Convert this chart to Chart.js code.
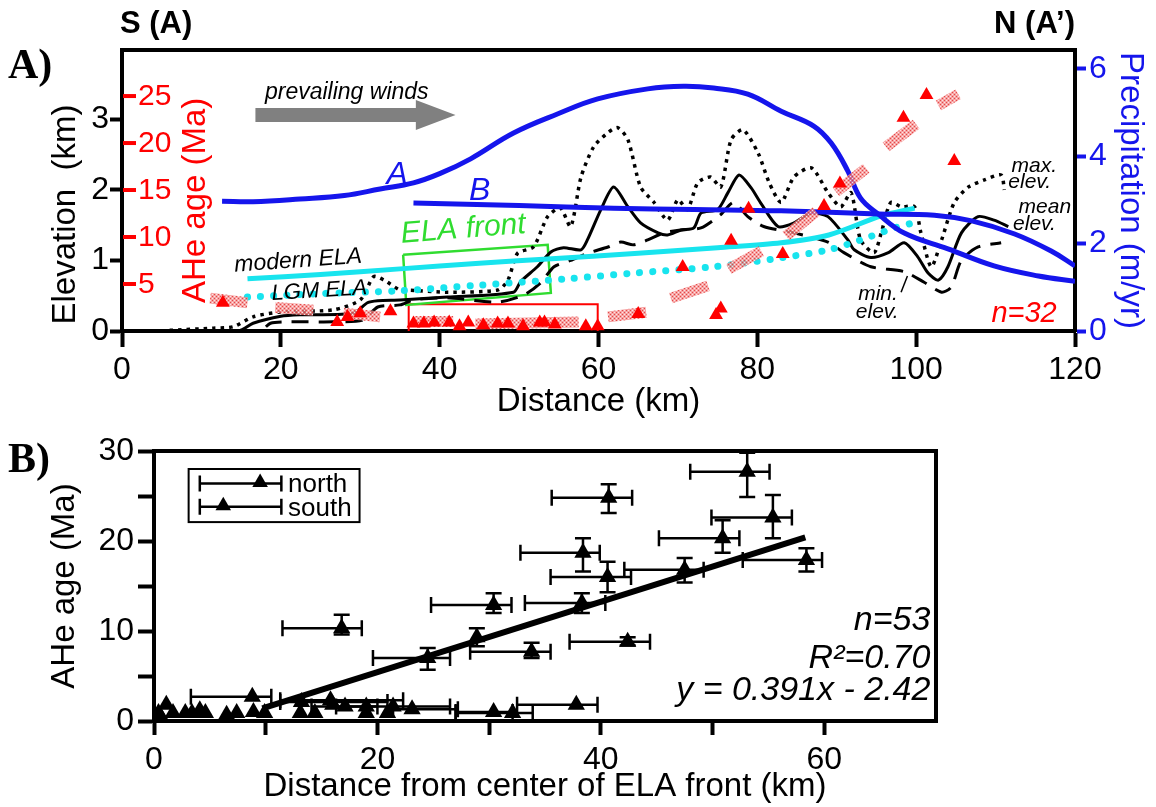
<!DOCTYPE html>
<html>
<head>
<meta charset="utf-8">
<script src="https://cdn.jsdelivr.net/npm/chart.js@4.4.1/dist/chart.umd.min.js"></script>
<style>
body{margin:0;background:#fff;width:1156px;height:807px;overflow:hidden;position:relative}
#chartA{position:absolute;left:0;top:0}
#chartB{position:absolute;left:0;top:420px}
</style>
</head>
<body>
<canvas id="chartA" width="1156" height="420"></canvas>
<canvas id="chartB" width="1156" height="387"></canvas>
<script>
/****** Panel A: profile S-N ******/
const distTicksA = [0, 20, 40, 60, 80, 100, 120];
const elevTicks = [0, 1, 2, 3];
const precipTicks = [0, 2, 4, 6];
const ageTicksA = [5, 10, 15, 20, 25];

// [distance km, precipitation m/yr]
const precipA = [[12.6,2.97],[16.5,2.96],[22.4,3.02],[28,3.1],[32.5,3.25],[36.7,3.39],[40,3.6],[43.9,3.94],[49.3,4.53],[54.9,4.97],[59.9,5.31],[66.2,5.54],[70.7,5.6],[74.5,5.56],[78.8,5.42],[83,5.03],[87.1,4.69],[89.3,4.3],[91.4,3.66],[93,3.04],[95.2,2.68],[98.5,2.24],[104,1.88],[109.8,1.49],[115.4,1.26],[120,1.14]];
const precipB = [[36.7,2.93],[50,2.87],[61.9,2.81],[72,2.78],[83,2.75],[95.2,2.68],[102.3,2.65],[107,2.52],[112.4,2.22],[117,1.83],[120,1.49]];

// [distance km, elevation km]
const modernELA = [[15.8,0.74],[25,0.8],[35,0.88],[45,0.96],[53.6,1.02],[65,1.1],[75,1.18],[83,1.25],[89,1.36],[95.6,1.63],[99.8,1.74]];
const lgmELA = [[15.8,0.48],[25,0.53],[35,0.57],[45.1,0.65],[56.1,0.74],[64.4,0.82],[74.5,0.91],[82,1.02],[89,1.15],[93,1.29],[97.3,1.46],[100.2,1.55]];
const maxElev = [[6,0.01],[11.5,0.04],[14,0.06],[16.5,0.2],[20,0.27],[26.6,0.3],[30,0.44],[31.7,0.77],[33,0.72],[35,0.58],[36,0.58],[41,0.55],[47.3,0.58],[48.6,0.72],[49.8,1.1],[51.8,1.19],[53.6,1.62],[55.2,1.74],[56.5,1.48],[57.8,2.18],[59.4,2.61],[61.2,2.81],[62.4,2.88],[63.7,2.71],[65.3,2.04],[67,1.82],[68.7,1.57],[70,1.86],[71.2,1.72],[72.5,2.1],[74.1,2.18],[75.4,2.04],[76.7,2.71],[78.2,2.85],[80.1,2.52],[81.5,2.1],[83,1.82],[84.6,2.18],[86.8,2.31],[88.9,1.96],[90.5,1.76],[91.8,1.96],[93,1.29],[94.7,1.11],[95.6,1.39],[96.8,1.82],[98.1,1.76],[99.8,1.76],[100.6,1.39],[101.9,0.91],[103.2,1.29],[104.8,1.82],[106.6,2.04],[108.6,2.14],[110.7,2.21],[111.1,2.0]];
const meanElev = [[5,0],[11.5,0],[14.9,0.01],[16.5,0.11],[20,0.21],[22.4,0.23],[29.1,0.25],[30.9,0.4],[32.2,0.43],[35,0.44],[41,0.48],[49.3,0.55],[50.2,0.7],[52.3,0.91],[54,1.12],[55.6,1.18],[57.8,1.15],[58.6,1.29],[60.3,1.72],[61.9,2.04],[63.7,1.76],[65.3,1.53],[67.5,1.39],[68.7,1.36],[70.4,1.43],[72,1.46],[72.9,1.67],[75,1.72],[76.3,1.96],[77.7,2.21],[79.2,2.03],[80.5,1.8],[82.6,1.48],[84.6,1.53],[86.8,1.67],[88.9,1.62],[91.4,1.29],[92.2,1.15],[94.3,1.04],[96.5,1.11],[98.5,1.25],[100.2,1.05],[101.5,0.82],[102.8,0.72],[104,0.91],[105.7,1.39],[107.8,1.62],[109.8,1.57],[111.6,1.48]];
const minElev = [[11.5,0],[14,0],[17.4,0],[18.7,0.11],[20.8,0.13],[26.6,0.13],[30.4,0.16],[32.2,0.34],[35,0.37],[36.7,0.44],[41,0.47],[47.3,0.41],[50.6,0.51],[52.7,0.68],[54.4,0.91],[56.5,1.0],[58.6,1.1],[61.2,1.19],[62.8,1.26],[64.4,1.22],[66.2,1.29],[68.2,1.39],[70.4,1.43],[72.9,1.46],[75.4,1.65],[77,1.82],[78.8,1.62],[80.8,1.48],[84.6,1.39],[88.9,1.26],[90.9,1.11],[94.3,0.91],[98.5,0.84],[101,0.69],[103.2,0.55],[104.4,0.62],[105.7,1.0],[107.8,1.19],[110.7,1.25]];
const elaFrontBox = [[35.4,1.08],[53.6,1.22],[54,0.54],[35.8,0.37],[35.4,1.08]];
const sampleBox = [[36.1,0],[36.1,0.38],[59.9,0.38],[59.9,0]];

// [distance km, AHe age Ma]
const aheSamples = [[12.7,3.0],[27.1,0.95],[28.4,1.5],[30,1.9],[33.8,2.1],[36.7,0.8],[38,0.8],[39.3,0.9],[41.2,0.9],[42.5,0.5],[43.6,0.9],[45.5,0.6],[47.3,0.8],[48.6,0.8],[50.5,0.5],[52.6,0.9],[53.2,0.9],[54.5,0.7],[58.4,0.5],[59.9,0.5],[65,1.8],[70.6,6.8],[74.8,1.7],[75.4,2.4],[76.7,9.6],[78.9,13.0],[83.2,8.2],[88.4,13.3],[90.4,15.7],[98.4,22.7],[101.3,25.1],[104.8,18.1]];
const ageBandFrom = [[11.1,3.5],[19.3,2.5],[27.9,1.9],[36.7,1.0],[44.5,0.75],[61.2,1.5],[69.1,3.5],[76.4,6.6],[83.6,10.1],[89.9,14.8],[96.2,19.6],[102.8,24.0]];
const ageBandTo = [[15.8,3.0],[24.1,2.2],[32.5,1.5],[41.7,1.0],[57.5,0.95],[66,2.0],[73.8,4.8],[80.5,8.5],[87.4,12.7],[93.7,17.3],[100,22.0],[105.3,25.2]];

/****** Panel B: age vs distance from ELA front ******/
const distTicksB = [0, 10, 20, 30, 40, 50, 60];
const ageTicksB = [0, 5, 10, 15, 20, 25, 30];

const northDist  = [53.1, 40.7, 55.4, 50.9, 38.4, 40.6, 58.4, 47.5, 38.3, 30.4, 42.4, 28.9, 24.5, 16.8, 33.8, 37.8, 8.8];
const northAge   = [27.7, 24.8, 22.6, 20.3, 18.7, 16.0, 17.9, 16.8, 13.1, 12.9, 8.8, 9.3, 7.0, 10.3, 7.7, 1.8, 2.7];
const northDistLo = [48.0, 35.6, 49.9, 45.2, 32.8, 35.5, 52.7, 42.1, 33.2, 24.8, 37.2, null, 19.6, 11.5, 28.3, 32.5, 3.3];
const northDistHi = [55.1, 42.8, 57.1, 52.4, 39.9, 42.7, 59.8, 49.2, 40.4, 32.0, 44.4, null, 26.5, 18.6, 35.5, 39.7, 10.5];
const northAgeLo = [24.9, 23.1, 20.3, 18.7, 16.6, 14.3, 16.6, 15.4, 12.0, 12.0, 8.4, 8.3, 5.7, 9.6, 7.0, null, null];
const northAgeHi = [29.8, 26.3, 25.1, 22.3, 20.3, 17.7, 19.2, 18.1, 14.2, 14.2, 9.3, 10.3, 8.1, 11.8, 8.7, null, null];

const southDist = [0.4, 1.1, 1.7, 0.6, 2.8, 3.4, 4.1, 4.6, 6.5, 7.4, 8.9, 9.9, 13.1, 13.2, 14.4, 15.8, 16.0, 17.1, 19.0, 19.0, 20.9, 21.4, 23.1, 30.4, 32.1];
const southAge  = [0.9, 1.8, 0.9, 0.5, 0.9, 0.9, 1.2, 0.9, 0.7, 0.9, 1.0, 0.9, 0.9, 2.1, 0.9, 2.3, 1.8, 1.6, 1.6, 0.9, 0.9, 1.6, 1.3, 1.0, 0.9];
const southDistLo = [null,null,null,null,null,null,null,null,null,null,null,null,null,11.3,null,11.3,null,14.1,16.3,null,null,null,21.4,27.0,27.0];
const southDistHi = [null,null,null,null,null,null,null,null,null,null,null,null,null,20.9,null,22.3,null,20.0,26.5,null,null,null,27.2,32.1,33.9];

const fitLine = [[9.7, 1.4], [58.3, 20.4]];

/****** helpers ******/
const FONT = '"Liberation Sans", Arial, sans-serif';
Chart.defaults.font.family = FONT;
Chart.defaults.color = '#000';
const BLUE = '#1515ec', RED = '#ff0000', CYAN = '#18e4ee', GREEN = '#30dc30';

const xy = arr => arr.map(p => ({x: p[0], y: p[1]}));
const zipXY = (xs, ys) => xs.map((x, i) => ({x: x, y: ys[i]}));
const fixedTicks = list => scale => { scale.ticks = list.map(v => ({value: v})); };

function bandData() {
  const out = [];
  ageBandFrom.forEach((p, i) => {
    out.push({x: p[0], y: p[1]}, {x: ageBandTo[i][0], y: ageBandTo[i][1]}, {x: ageBandTo[i][0], y: null});
  });
  return out;
}

function hatch() {
  const c = document.createElement('canvas');
  c.width = 4; c.height = 4;
  const g = c.getContext('2d');
  g.fillStyle = 'rgba(244,140,140,0.8)'; g.fillRect(0, 0, 4, 4);
  g.fillStyle = 'rgba(225,50,50,0.8)'; g.fillRect(0, 0, 1, 1); g.fillRect(2, 2, 1, 1);
  g.fillStyle = 'rgba(255,235,235,0.9)'; g.fillRect(2, 0, 1, 1); g.fillRect(0, 2, 1, 1);
  return g.createPattern(c, 'repeat');
}

function txt(ctx, s, x, y, font, color, align, rot) {
  ctx.save();
  ctx.translate(x, y);
  if (rot) ctx.rotate(rot);
  ctx.font = font;
  ctx.fillStyle = color;
  ctx.textAlign = align || 'left';
  ctx.textBaseline = 'alphabetic';
  ctx.fillText(s, 0, 0);
  ctx.restore();
}

const axisTitle = (text, pad, size, color) => ({display: true, text: text, color: color || '#000', font: {size: size || 33, lineHeight: 1}, padding: pad});

/****** Chart A ******/
const panelA = {
  id: 'panelA',
  afterDraw(chart) {
    const {ctx, chartArea: ca, scales: s} = chart;
    const X = v => s.x.getPixelForValue(v);
    const E = v => s.y.getPixelForValue(v);
    const G = v => s.yAge.getPixelForValue(v);
    ctx.save();
    ctx.strokeStyle = '#000'; ctx.lineWidth = 4;
    ctx.beginPath(); ctx.moveTo(ca.left - 2, ca.top); ctx.lineTo(ca.right + 2, ca.top); ctx.stroke();

    // elevation title, sits a bit low in the original
    txt(ctx, 'Elevation  (km)', 75, E(1.65), '33px ' + FONT, '#000', 'center', -Math.PI / 2);

    // red AHe age axis drawn inside the frame
    ctx.strokeStyle = RED; ctx.lineWidth = 4;
    ageTicksA.forEach(v => {
      const y = G(v);
      ctx.beginPath(); ctx.moveTo(ca.left + 1, y); ctx.lineTo(ca.left + 14, y); ctx.stroke();
      ctx.font = '30px ' + FONT; ctx.fillStyle = RED; ctx.textAlign = 'left'; ctx.textBaseline = 'middle';
      ctx.fillText(String(v), ca.left + 16, y + 1);
    });
    txt(ctx, 'AHe age (Ma)', 205, G(13.9), '33px ' + FONT, RED, 'center', -Math.PI / 2);

    // prevailing winds arrow
    const ay = E(3.06);
    ctx.fillStyle = '#808080';
    ctx.beginPath();
    ctx.moveTo(X(16.8), ay - 7); ctx.lineTo(X(37), ay - 7); ctx.lineTo(X(37), ay - 15);
    ctx.lineTo(X(42), ay); ctx.lineTo(X(37), ay + 15); ctx.lineTo(X(37), ay + 7);
    ctx.lineTo(X(16.8), ay + 7); ctx.closePath(); ctx.fill();
    txt(ctx, 'prevailing winds', X(18), E(3.28), 'italic 23px ' + FONT, '#000');

    txt(ctx, 'A', X(33.3), E(2.08), 'italic 32px ' + FONT, BLUE);
    txt(ctx, 'B', X(43.7), E(1.86), 'italic 32px ' + FONT, BLUE);
    txt(ctx, 'modern ELA', X(14.2), E(0.84), 'italic 23px ' + FONT, '#000', 'left', -0.07);
    txt(ctx, 'LGM ELA', X(18.9), E(0.44), 'italic 22px ' + FONT, '#000', 'left', -0.06);
    txt(ctx, 'ELA front', X(35.2), E(1.25), 'italic 30px ' + FONT, GREEN, 'left', -0.08);
    txt(ctx, 'max.', X(112), E(2.25), 'italic 21px ' + FONT, '#000');
    txt(ctx, 'elev.', X(111.6), E(2.02), 'italic 21px ' + FONT, '#000');
    txt(ctx, 'mean', X(112.9), E(1.67), 'italic 21px ' + FONT, '#000');
    txt(ctx, 'elev.', X(112.2), E(1.43), 'italic 21px ' + FONT, '#000');
    txt(ctx, 'min.', X(92.7), E(0.44), 'italic 21px ' + FONT, '#000');
    txt(ctx, 'elev.', X(92.4), E(0.18), 'italic 21px ' + FONT, '#000');
    ctx.strokeStyle = '#000'; ctx.lineWidth = 1.5;
    ctx.beginPath(); ctx.moveTo(X(98.9), E(0.78)); ctx.lineTo(X(98.1), E(0.55)); ctx.stroke();
    txt(ctx, 'n=32', X(117.7), E(0.13), 'italic 29px ' + FONT, RED, 'right');

    txt(ctx, 'S (A)', 120, 33, 'bold 31px ' + FONT, '#000');
    txt(ctx, 'N (A\u2019)', 1075, 33, 'bold 31px ' + FONT, '#000', 'right');
    txt(ctx, 'A)', 8, 78, 'bold 42px "Liberation Serif", serif', '#000');
    ctx.restore();
  }
};

const lineSet = (label, data, color, width, dash, axis, extra) => Object.assign({
  label: label, data: xy(data), borderColor: color, borderWidth: width, borderDash: dash || [],
  pointRadius: 0, fill: false, tension: 0.25, yAxisID: axis || 'y'
}, extra || {});

new Chart(document.getElementById('chartA'), {
  type: 'line',
  data: {
    datasets: [
      {label: 'AHe samples', data: xy(aheSamples), yAxisID: 'yAge', showLine: false,
       pointStyle: 'triangle', pointRadius: 8, backgroundColor: RED, borderColor: RED, borderWidth: 0},
      {label: 'age bands', data: bandData(), yAxisID: 'yAge', borderColor: hatch(), borderWidth: 11,
       borderCapStyle: 'butt', pointRadius: 0, spanGaps: false, tension: 0},
      lineSet('Precipitation A', precipA, BLUE, 5, null, 'yP', {tension: 0.4}),
      lineSet('Precipitation B', precipB, BLUE, 5, null, 'yP', {tension: 0.4}),
      lineSet('modern ELA', modernELA, CYAN, 5, null, 'y', {tension: 0.3}),
      lineSet('LGM ELA', lgmELA, CYAN, 7, [0.1, 13], 'y', {borderCapStyle: 'round', tension: 0.3}),
      lineSet('max. elev.', maxElev, '#000', 3.5, [3.5, 5]),
      lineSet('mean elev.', meanElev, '#000', 3),
      lineSet('min. elev.', minElev, '#000', 3, [17, 10]),
      lineSet('ELA front', elaFrontBox, GREEN, 2.5, null, 'y', {tension: 0}),
      lineSet('sample box', sampleBox, RED, 2, null, 'y', {tension: 0})
    ]
  },
  options: {
    responsive: false,
    animation: false,
    layout: {padding: {top: 50, left: 0, right: 0, bottom: 0}},
    plugins: {legend: {display: false}, tooltip: {enabled: false}},
    scales: {
      x: {
        type: 'linear', min: 0, max: 120,
        afterBuildTicks: fixedTicks(distTicksA),
        afterFit: s => { s.height = 89; },
        ticks: {font: {size: 32}, color: '#000', padding: 4, maxRotation: 0},
        grid: {drawOnChartArea: false, tickLength: 16, tickWidth: 4, tickColor: '#000'},
        border: {color: '#000', width: 4},
        title: axisTitle('Distance (km)', {bottom: 2})
      },
      y: {
        position: 'left', min: 0, max: 3.98,
        afterBuildTicks: fixedTicks(elevTicks),
        afterFit: s => { s.width = 122; },
        ticks: {font: {size: 32}, color: '#000', padding: 1},
        grid: {drawOnChartArea: false, tickLength: 12, tickWidth: 4, tickColor: '#000'},
        border: {color: '#000', width: 4},
        title: {display: false}
      },
      yP: {
        position: 'right', min: 0, max: 6.43,
        afterBuildTicks: fixedTicks(precipTicks),
        afterFit: s => { s.width = 81; },
        ticks: {font: {size: 32}, color: BLUE, padding: 3},
        grid: {drawOnChartArea: false, tickLength: 11, tickWidth: 4, tickColor: BLUE},
        border: {color: '#000', width: 4},
        title: axisTitle('Precipitation (m/yr)', {top: 9}, 33, BLUE)
      },
      yAge: {display: false, min: 0, max: 29.9}
    }
  },
  plugins: [panelA]
});

/****** Chart B ******/
function drawErr(ctx, X, Y, dist, age, dLo, dHi, aLo, aHi) {
  dist.forEach((d, i) => {
    const py = Y(age[i]), px = X(d);
    if (dLo[i] != null) {
      const l = X(dLo[i]), r = X(dHi[i]);
      ctx.beginPath(); ctx.moveTo(l, py); ctx.lineTo(r, py);
      ctx.moveTo(l, py - 8); ctx.lineTo(l, py + 8); ctx.moveTo(r, py - 8); ctx.lineTo(r, py + 8); ctx.stroke();
    }
    if (aLo && aLo[i] != null) {
      const b = Y(aLo[i]), t = Y(aHi[i]);
      ctx.beginPath(); ctx.moveTo(px, b); ctx.lineTo(px, t);
      ctx.moveTo(px - 8, b); ctx.lineTo(px + 8, b); ctx.moveTo(px - 8, t); ctx.lineTo(px + 8, t); ctx.stroke();
    }
  });
}

function tri(ctx, x, y, r) {
  ctx.beginPath();
  ctx.moveTo(x, y - r);
  ctx.lineTo(x + r * 0.866, y + r / 2);
  ctx.lineTo(x - r * 0.866, y + r / 2);
  ctx.closePath(); ctx.fill();
}

const panelB = {
  id: 'panelB',
  beforeDatasetsDraw(chart) {
    const {ctx, scales: s} = chart;
    const X = v => s.x.getPixelForValue(v), Y = v => s.y.getPixelForValue(v);
    ctx.save();
    ctx.strokeStyle = '#000'; ctx.lineWidth = 2.5;
    drawErr(ctx, X, Y, northDist, northAge, northDistLo, northDistHi, northAgeLo, northAgeHi);
    drawErr(ctx, X, Y, southDist, southAge, southDistLo, southDistHi, null, null);
    ctx.restore();
  },
  afterDraw(chart) {
    const {ctx, chartArea: ca, scales: s} = chart;
    const X = v => s.x.getPixelForValue(v), Y = v => s.y.getPixelForValue(v);
    ctx.save();
    ctx.strokeStyle = '#000'; ctx.lineWidth = 4;
    ctx.beginPath(); ctx.moveTo(ca.left - 2, ca.top); ctx.lineTo(ca.right, ca.top); ctx.lineTo(ca.right, ca.bottom + 2); ctx.stroke();

    // legend
    ctx.lineWidth = 2;
    ctx.strokeRect(X(3.1), Y(28.0), X(18.4) - X(3.1), Y(22.1) - Y(28.0));
    ctx.lineWidth = 2.5; ctx.fillStyle = '#000';
    [[26.4, 9.5, 'north'], [23.8, 6.2, 'south']].forEach(e => {
      const y = Y(e[0]), l = X(4.1), r = X(11.4);
      ctx.beginPath(); ctx.moveTo(l, y); ctx.lineTo(r, y);
      ctx.moveTo(l, y - 8); ctx.lineTo(l, y + 8); ctx.moveTo(r, y - 8); ctx.lineTo(r, y + 8); ctx.stroke();
      tri(ctx, X(e[1]), y - 1, 9);
      txt(ctx, e[2], X(12), y + 9, '26px ' + FONT, '#000');
    });

    txt(ctx, 'n=53', X(69.5), Y(10.1), 'italic 34px ' + FONT, '#000', 'right');
    txt(ctx, 'R\u00b2=0.70', X(69.5), Y(5.9), 'italic 34px ' + FONT, '#000', 'right');
    txt(ctx, 'y = 0.391x - 2.42', X(69.5), Y(2.3), 'italic 34px ' + FONT, '#000', 'right');
    txt(ctx, 'B)', 8, 52, 'bold 42px "Liberation Serif", serif', '#000');
    ctx.restore();
  }
};

const triSet = (label, xs, ys) => ({
  label: label, data: zipXY(xs, ys), showLine: false, pointStyle: 'triangle',
  pointRadius: 10, backgroundColor: '#000', borderColor: '#000', borderWidth: 0
});

new Chart(document.getElementById('chartB'), {
  type: 'line',
  data: {
    datasets: [
      triSet('north', northDist, northAge),
      triSet('south', southDist, southAge),
      {label: 'fit', data: xy(fitLine), borderColor: '#000', borderWidth: 6, pointRadius: 0, tension: 0}
    ]
  },
  options: {
    responsive: false,
    animation: false,
    layout: {padding: {top: 31, left: 0, right: 220, bottom: 0}},
    plugins: {legend: {display: false}, tooltip: {enabled: false}},
    scales: {
      x: {
        type: 'linear', min: 0, max: 70,
        afterBuildTicks: fixedTicks(distTicksB),
        afterFit: s => { s.height = 86; },
        ticks: {font: {size: 32}, color: '#000', padding: 6, maxRotation: 0, callback: v => v % 20 === 0 ? v : ''},
        grid: {drawOnChartArea: false, tickLength: 14, tickWidth: 4, tickColor: '#000'},
        border: {color: '#000', width: 4},
        title: axisTitle('Distance from center of ELA front (km)', {bottom: 4}, 33)
      },
      y: {
        min: 0, max: 30,
        afterBuildTicks: fixedTicks(ageTicksB),
        afterFit: s => { s.width = 154; },
        ticks: {font: {size: 32}, color: '#000', padding: 4, callback: v => v % 10 === 0 ? v : ''},
        grid: {drawOnChartArea: false, tickLength: 16, tickWidth: 4, tickColor: '#000'},
        border: {color: '#000', width: 4},
        title: axisTitle('AHe age (Ma)', {top: 48})
      }
    }
  },
  plugins: [panelB]
});
</script>
</body>
</html>
